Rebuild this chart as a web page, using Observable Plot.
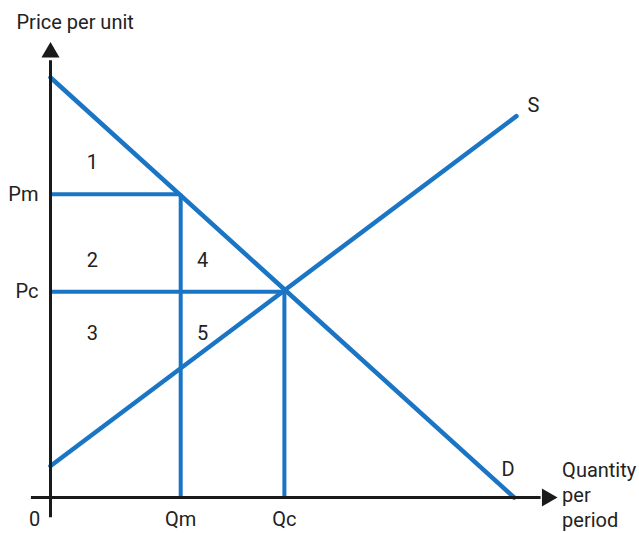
<!DOCTYPE html>
<html><head><meta charset="utf-8">
<script src="https://cdn.jsdelivr.net/npm/d3@7"></script>
<script src="https://cdn.jsdelivr.net/npm/@observablehq/plot@0.6"></script>
<style>body{margin:0;background:#fff}</style>
</head><body><div id="chart"></div>
<script>
// Demand and supply curves (quantity, price)
const demand = [{q: 0, p: 10}, {q: 9.97, p: 0}];
const supply = [{q: 0, p: 0.75}, {q: 10.02, p: 9.08}];
// Monopoly and competitive outcomes
const Qm = 2.8, Pm = 7.22;
const Qc = 5.03, Pc = 4.9;
// Axis extents
const xAxisExtent = [-0.41, 10.55];
const yAxisExtent = [-0.48, 10.4];
const xArrowTip = 10.68, yArrowTip = 10.6;
// Area labels
const areaLabels = [
  {q: 0.9, p: 7.98, t: "1"},
  {q: 0.9, p: 5.64, t: "2"},
  {q: 0.9, p: 3.9, t: "3"},
  {q: 3.27, p: 5.64, t: "4"},
  {q: 3.27, p: 3.9, t: "5"}
];
const priceTicks = [{p: Pm, t: "Pm"}, {p: Pc, t: "Pc"}];
const qtyTicks = [{q: Qm, t: "Qm"}, {q: Qc, t: "Qc"}];
const originLabel = "0";

const blue = "#1b75c5";
const ink = "#222";
const font = "Roboto, 'Liberation Sans', sans-serif";

const chart = Plot.plot({
  width: 639, height: 533,
  margin: 0,
  style: {fontFamily: font, fontSize: "20px", color: ink, background: "#fff"},
  x: {domain: [0, 10], range: [50, 515], axis: null},
  y: {domain: [0, 10], range: [497, 77], axis: null},
  marks: [
    // guides
    Plot.ruleY([Pm], {x1: 0, x2: Qm, stroke: blue, strokeWidth: 4}),
    Plot.ruleY([Pc], {x1: 0, x2: Qc, stroke: blue, strokeWidth: 4}),
    Plot.ruleX([Qm], {y1: 0, y2: Pm, stroke: blue, strokeWidth: 4}),
    Plot.ruleX([Qc], {y1: 0, y2: Pc, stroke: blue, strokeWidth: 4}),
    // curves
    Plot.line(demand, {x: "q", y: "p", stroke: blue, strokeWidth: 4.5}),
    Plot.line(supply, {x: "q", y: "p", stroke: blue, strokeWidth: 4.5}),
    // axes
    Plot.ruleY([0], {x1: xAxisExtent[0], x2: xAxisExtent[1], stroke: "#1a1a1a", strokeWidth: 3}),
    Plot.ruleX([0], {y1: yAxisExtent[0], y2: yAxisExtent[1], stroke: "#1a1a1a", strokeWidth: 3}),
    Plot.dot([0], {x: xArrowTip, y: 0, symbol: "triangle", r: 6.7, fill: "#1a1a1a", rotate: 90}),
    Plot.dot([0], {x: 0, y: yArrowTip, symbol: "triangle", r: 6.7, fill: "#1a1a1a"}),
    // labels
    Plot.text(areaLabels, {x: "q", y: "p", text: "t", fill: ink}),
    Plot.text(priceTicks, {x: 0, y: "p", text: "t", textAnchor: "end", dx: -12, fill: ink}),
    Plot.text(qtyTicks, {x: "q", y: 0, text: "t", dy: 22, fill: ink}),
    Plot.text([originLabel], {x: 0, y: 0, text: d => d, dx: -16, dy: 22, fill: ink}),
    Plot.text(["S"], {x: 10.02, y: 9.08, text: d => d, dx: 17, dy: -11, fill: ink}),
    Plot.text(["D"], {x: 9.97, y: 0, text: d => d, dx: -6, dy: -28, fill: ink}),
    Plot.text(["Quantity\nper\nperiod"], {x: xArrowTip, y: 0, text: d => d, textAnchor: "start", lineAnchor: "middle", lineHeight: 1.25, dx: 15, dy: -4, fill: ink}),
    Plot.text(["Price per unit"], {frameAnchor: "top-left", text: d => d, textAnchor: "start", lineAnchor: "top", dx: 16, dy: 14, fill: ink})
  ]
});
document.getElementById("chart").append(chart);
</script>
</body></html>
